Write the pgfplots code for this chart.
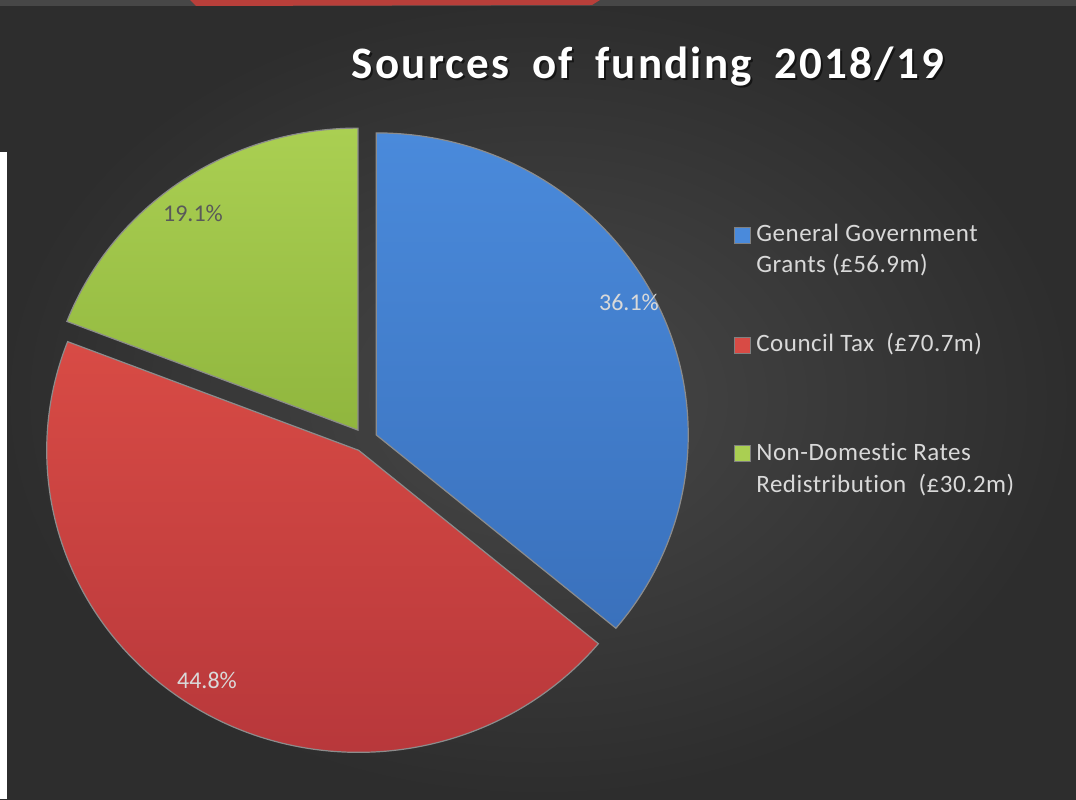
\documentclass[border=0pt]{standalone}
\usepackage{pgfplots}
\pgfplotsset{compat=1.18}
\usepackage{pgfplotstable}
\usepackage{fontspec}
\setmainfont{Carlito}[Ligatures=NoCommon]
\newfontfamily\titlefont[LetterSpace=5,WordSpace={1.8},Ligatures=NoCommon]{Carlito}
\newfontfamily\legfont[LetterSpace=2,Ligatures=NoCommon]{Carlito}
\usetikzlibrary{calc}

\definecolor{bgin}{HTML}{484848}
\definecolor{bgout}{HTML}{2D2D2D}
\definecolor{blueT}{HTML}{4A8ADB}
\definecolor{blueB}{HTML}{3A71BC}
\definecolor{redT}{HTML}{D84B45}
\definecolor{redB}{HTML}{B5363A}
\definecolor{greenT}{HTML}{AACF52}
\definecolor{greenB}{HTML}{90B63E}
\definecolor{txt}{HTML}{D9D9D9}
\definecolor{gtxt}{HTML}{595959}
\definecolor{topred}{HTML}{B83F3A}

% funding in million pounds
\pgfplotstableread{
source value
Grants 56.9
CouncilTax 70.7
NDR 30.2
}\fundtable

% start angle, end angle, mid angle, top colour, bottom colour
\newcommand\slice[5]{%
  \shade[top color=#4,bottom color=#5,draw=black!45,line width=0.6pt]
    ($(axis cs:365,359)+(#3:6.2pt and 6pt)$) -- ++(#1:156pt and 151pt)
    arc[start angle=#1,end angle=#2,x radius=156pt,y radius=151pt] -- cycle;}

\begin{document}
\begin{tikzpicture}
  \pgfplotstablegetelem{0}{value}\of\fundtable \let\vA\pgfplotsretval
  \pgfplotstablegetelem{1}{value}\of\fundtable \let\vB\pgfplotsretval
  \pgfplotstablegetelem{2}{value}\of\fundtable \let\vC\pgfplotsretval
  \pgfmathsetmacro\tot{\vA+\vB+\vC}
  \pgfmathsetmacro\sA{90}
  \pgfmathsetmacro\eA{\sA-360*(\vA/\tot)}
  \pgfmathsetmacro\eB{\eA-360*(\vB/\tot)}
  \pgfmathsetmacro\eC{\eB-360*(\vC/\tot)}
  \pgfmathsetmacro\mA{(\sA+\eA)/2}
  \pgfmathsetmacro\mB{(\eA+\eB)/2}
  \pgfmathsetmacro\mC{(\eB+\eC)/2}
  \begin{axis}[
      name=pie,
      scale only axis,
      x=0.5pt, y=0.5pt,
      xmin=0, xmax=1076,
      ymin=0, ymax=799,
      hide axis,
    ]
    % background
    \shade[inner color=bgin,outer color=bgout] (axis cs:0,0) rectangle (axis cs:1076,799);
    \fill[black!72] (axis cs:0,793) rectangle (axis cs:1076,799);
    \fill[topred] (axis cs:190,799) -- (axis cs:600,799) -- (axis cs:592,794) -- (axis cs:196,793) -- cycle;
    \fill[white] (axis cs:0,0) rectangle (axis cs:7,647);

    % slices
    \slice{\sA}{\eA}{\mA}{blueT}{blueB}
    \slice{\eA}{\eB}{\mB}{redT}{redB}
    \slice{\eB}{\eC}{\mC}{greenT}{greenB}

    % data labels
    \node[txt,font=\fontsize{12}{14}\selectfont] at (axis cs:629,497) {36.1\%};
    \node[txt,font=\fontsize{12}{14}\selectfont] at (axis cs:207,119) {44.8\%};
    \node[gtxt,font=\fontsize{12}{14}\selectfont] at (axis cs:193,586) {19.1\%};

    % title
    \node[anchor=base,black,opacity=0.55,font=\titlefont\bfseries\fontsize{22.5}{26}\selectfont]
      at (axis cs:650,718) {Sources of funding 2018/19};
    \node[anchor=base,white,font=\titlefont\bfseries\fontsize{22.5}{26}\selectfont]
      at (axis cs:648,720) {Sources of funding 2018/19};

    % legend
    \fill[blueT,draw=black!50,line width=0.4pt] (axis cs:734,556) rectangle (axis cs:750,572);
    \fill[redT,draw=black!50,line width=0.4pt] (axis cs:734,446) rectangle (axis cs:750,462);
    \fill[greenT,draw=black!50,line width=0.4pt] (axis cs:734,338) rectangle (axis cs:750,354);
    \begin{scope}[every node/.style={anchor=base west,txt,inner sep=0pt,font=\legfont\fontsize{12.5}{15}\selectfont}]
      \node at (axis cs:756,557) {General Government};
      \node at (axis cs:756,526) {Grants (£56.9m)};
      \node at (axis cs:756,447) {Council Tax\ \ (£70.7m)};
      \node at (axis cs:756,339) {Non-Domestic Rates};
      \node at (axis cs:756,307) {Redistribution\ \ (£30.2m)};
    \end{scope}
  \end{axis}
  \pgfresetboundingbox
  \path (pie.south west) rectangle (pie.north east);
\end{tikzpicture}
\end{document}
